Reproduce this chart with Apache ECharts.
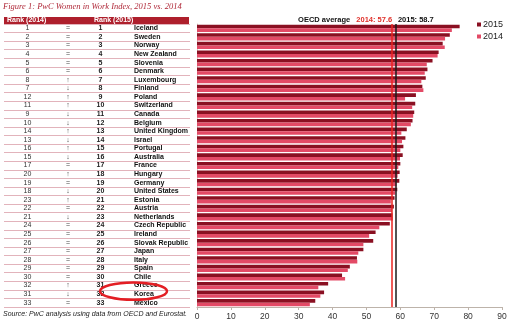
<!DOCTYPE html>
<html>
<head>
<meta charset="utf-8">
<script src="https://cdn.jsdelivr.net/npm/echarts@6/dist/echarts.min.js"></script>
<style>
  html, body { margin: 0; padding: 0; background: #fff; }
  #chart { width: 510px; height: 329px; }
</style>
</head>
<body>
<div id="chart"></div>
<script>
// PwC Women in Work Index, 2015 vs. 2014
const countries = ['Iceland', 'Sweden', 'Norway', 'New Zealand', 'Slovenia', 'Denmark', 'Luxembourg',
  'Finland', 'Poland', 'Switzerland', 'Canada', 'Belgium', 'United Kingdom', 'Israel', 'Portugal',
  'Australia', 'France', 'Hungary', 'Germany', 'United States', 'Estonia', 'Austria', 'Netherlands',
  'Czech Republic', 'Ireland', 'Slovak Republic', 'Japan', 'Italy', 'Spain', 'Chile', 'Greece',
  'Korea', 'Mexico'];
const rank2014 = [1, 2, 3, 4, 5, 6, 8, 7, 12, 11, 9, 10, 14, 13, 16, 15, 17, 20, 19, 18, 23, 22, 21,
  24, 25, 26, 27, 28, 29, 30, 32, 31, 33];
const rank2015 = [1, 2, 3, 4, 5, 6, 7, 8, 9, 10, 11, 12, 13, 14, 15, 16, 17, 18, 19, 20, 21, 22, 23,
  24, 25, 26, 27, 28, 29, 30, 31, 32, 33];
const index2015 = [77.5, 74.6, 72.5, 71.3, 69.5, 68.0, 67.5, 66.5, 64.6, 64.4, 64.1, 63.6, 61.9, 61.5,
  60.9, 60.7, 60.0, 59.8, 59.7, 59.1, 58.3, 58.1, 57.7, 56.9, 52.7, 52.0, 49.1, 47.2, 45.1, 42.8,
  38.7, 37.5, 34.9];
const index2014 = [75.2, 73.2, 73.1, 71.0, 67.8, 67.2, 66.2, 66.8, 61.4, 63.5, 63.8, 63.1, 60.3, 60.5,
  60.0, 59.9, 59.4, 59.2, 58.9, 58.5, 57.2, 57.5, 57.8, 53.8, 50.8, 49.1, 47.6, 47.3, 44.5, 43.7,
  35.8, 36.4, 33.3];
const oecdAverage2014 = 57.6;
const oecdAverage2015 = 58.7;
const highlighted = 'Korea';

const DARK = '#8a1022';
const PINK = '#e34a66';
const HEADER_RED = '#ae1f2c';
const FONT = 'Liberation Sans, Arial, sans-serif';

function movement(i) {
  if (rank2015[i] < rank2014[i]) return '\u2191';
  if (rank2015[i] > rank2014[i]) return '\u2193';
  return '=';
}

const chart = echarts.init(document.getElementById('chart'), null, { renderer: 'canvas' });

const gridTop = 24, gridBottom = 22;

chart.setOption({
  animation: false,
  textStyle: { fontFamily: FONT },
  grid: [
    { left: 197, right: 8, top: gridTop, bottom: gridBottom },
    { left: 4, width: 186, top: gridTop, bottom: gridBottom }
  ],
  legend: {
    data: ['2015', '2014'],
    orient: 'vertical',
    right: 2,
    top: 15,
    icon: 'rect',
    itemWidth: 4,
    itemHeight: 4,
    itemGap: 3,
    textStyle: { fontSize: 9, color: '#222', fontFamily: FONT, padding: [0, 0, 0, -3] }
  },
  xAxis: [
    {
      gridIndex: 0,
      type: 'value',
      min: 0, max: 90, interval: 10,
      axisLine: { show: true, lineStyle: { color: '#bdb3aa', width: 1 } },
      axisTick: { show: true, length: 3, lineStyle: { color: '#bdb3aa' } },
      splitLine: { show: false },
      axisLabel: { fontSize: 8.5, color: '#333', margin: 5 }
    },
    { gridIndex: 1, type: 'value', min: 0, max: 1, show: false }
  ],
  yAxis: [
    {
      gridIndex: 0,
      type: 'category',
      inverse: true,
      data: countries,
      axisLine: { show: true, lineStyle: { color: '#d8d0cc' } },
      axisTick: { show: false },
      axisLabel: { show: false },
      splitLine: { show: false }
    },
    {
      gridIndex: 1,
      type: 'category',
      inverse: true,
      data: countries,
      axisLine: { show: false },
      axisTick: { show: false },
      splitLine: { show: true, interval: 0, lineStyle: { color: '#e2b3bb', width: 1 } },
      axisLabel: {
        inside: true,
        interval: 0,
        margin: 0,
        formatter: (v, i) =>
          `{r1|${rank2014[i]}}{mv|${movement(i)}}{r2|${rank2015[i]}}{sp| }{c|${v}}`,
        rich: {
          r1: { width: 47, align: 'center', fontSize: 7, color: '#333', fontFamily: FONT },
          mv: { width: 34, align: 'center', fontSize: 7, color: '#444', fontFamily: FONT },
          r2: { width: 31, align: 'right', fontSize: 7, color: '#222', fontWeight: 'bold', fontFamily: FONT },
          sp: { width: 18, fontSize: 7 },
          c: { fontSize: 7, color: '#111', fontWeight: 'bold', fontFamily: FONT }
        }
      }
    }
  ],
  series: [
    {
      name: '2015',
      type: 'bar',
      xAxisIndex: 0, yAxisIndex: 0,
      data: index2015,
      itemStyle: { color: DARK },
      barGap: '0%',
      barCategoryGap: '16%',
      markLine: {
        silent: true,
        symbol: 'none',
        label: { show: false },
        data: [
          { xAxis: oecdAverage2014, lineStyle: { color: '#e8231f', width: 1.5, type: 'solid' } },
          { xAxis: oecdAverage2015, lineStyle: { color: '#1a1a1a', width: 1.5, type: 'solid' } }
        ]
      }
    },
    {
      name: '2014',
      type: 'bar',
      xAxisIndex: 0, yAxisIndex: 0,
      data: index2014,
      itemStyle: { color: PINK },
      barGap: '0%',
      barCategoryGap: '16%'
    }
  ]
});

// Annotations positioned from the axes
const x14 = chart.convertToPixel({ xAxisIndex: 0 }, oecdAverage2014);
const x15 = chart.convertToPixel({ xAxisIndex: 0 }, oecdAverage2015);
const yHi = chart.convertToPixel({ yAxisIndex: 1 }, highlighted);
const labelY = gridTop - 4;

chart.setOption({
  graphic: [
    {
      type: 'text', x: 3, y: 7,
      style: {
        text: 'Figure 1: PwC Women in Work Index, 2015 vs. 2014',
        font: 'italic 8.5px "Liberation Serif", serif',
        fill: '#b02a3a', verticalAlign: 'middle'
      }
    },
    {
      type: 'rect', shape: { x: 4, y: 17, width: 185, height: 7 },
      style: { fill: HEADER_RED }
    },
    {
      type: 'text', x: 7, y: 20.5,
      style: { text: 'Rank (2014)', font: 'bold 7px ' + FONT, fill: '#fff', verticalAlign: 'middle' }
    },
    {
      type: 'text', x: 94, y: 20.5,
      style: { text: 'Rank (2015)', font: 'bold 7px ' + FONT, fill: '#fff', verticalAlign: 'middle' }
    },
    {
      type: 'text', x: 3, y: 314,
      style: {
        text: 'Source: PwC analysis using data from OECD and Eurostat.',
        font: 'italic 7px ' + FONT, fill: '#222', verticalAlign: 'middle'
      }
    },
    {
      type: 'ellipse',
      shape: { cx: 133.5, cy: yHi - 3, rx: 33.5, ry: 8.7 },
      style: { fill: 'none', stroke: '#e31e24', lineWidth: 2.5 },
      z: 100
    },
    {
      type: 'text', x: x14 - 42, y: labelY,
      style: {
        text: 'OECD average', font: 'bold 7.5px ' + FONT, fill: '#111',
        align: 'right', verticalAlign: 'middle'
      }
    },
    {
      type: 'text', x: x14, y: labelY,
      style: {
        text: '2014: 57.6', font: 'bold 7.5px ' + FONT, fill: '#e0302a',
        align: 'right', verticalAlign: 'middle'
      }
    },
    {
      type: 'text', x: x15 + 2, y: labelY,
      style: {
        text: '2015: 58.7', font: 'bold 7.5px ' + FONT, fill: '#111',
        align: 'left', verticalAlign: 'middle'
      }
    }
  ]
});
</script>
</body>
</html>
